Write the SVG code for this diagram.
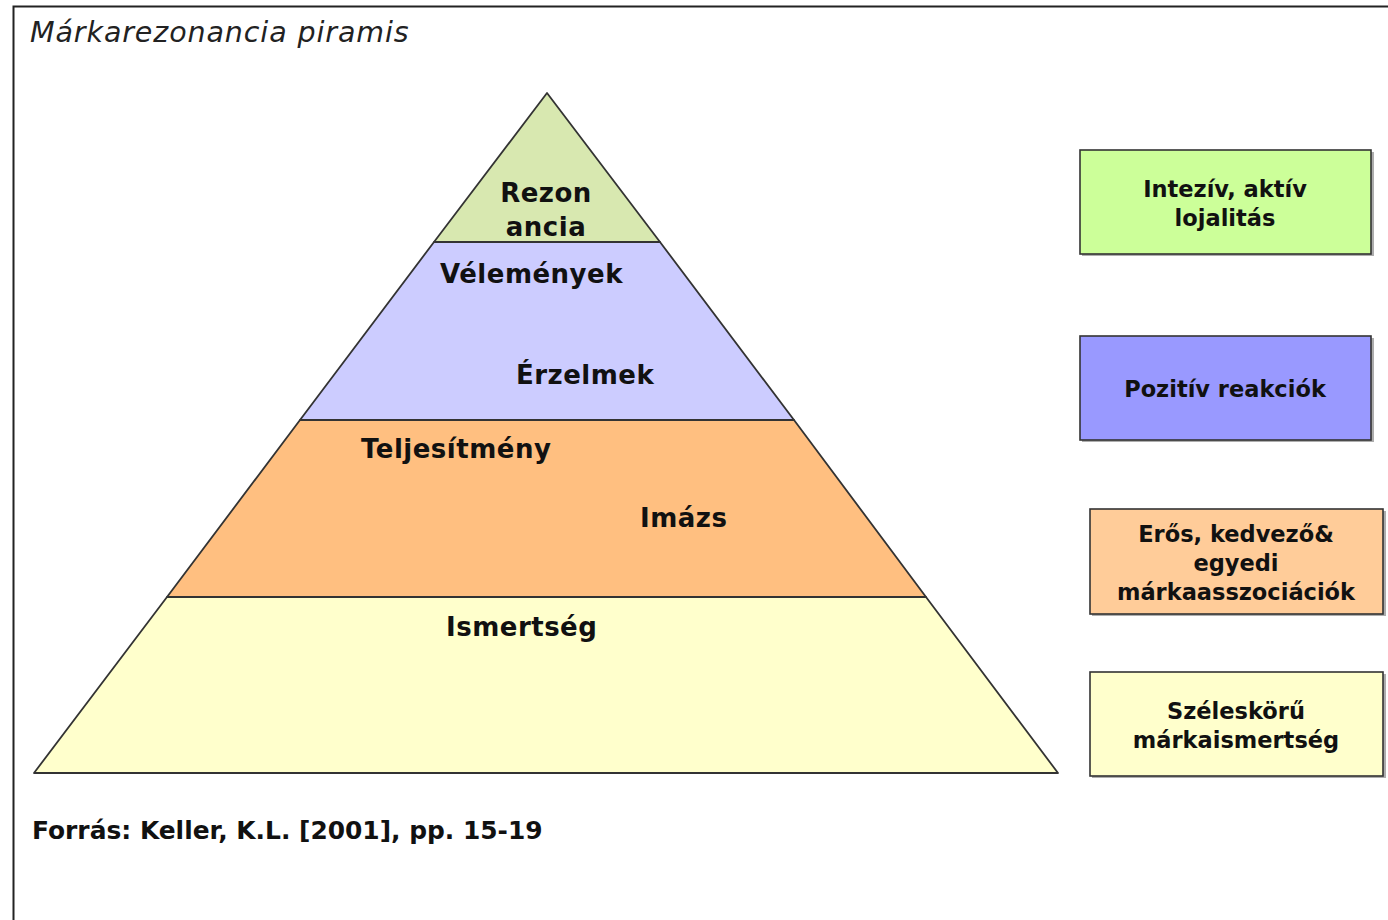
<svg xmlns="http://www.w3.org/2000/svg" width="1388" height="920" viewBox="0 0 1388 920">
<style>
.lay{stroke:#333;stroke-width:1.8;stroke-linejoin:round}
.pt{font-family:"DejaVu Sans",Verdana,sans-serif;font-weight:bold;font-size:26px;fill:#111;letter-spacing:0.5px}
.bx{stroke:#333;stroke-width:1.6}
.sh{fill:#777;opacity:0.6}
.bt{font-family:"DejaVu Sans",Verdana,sans-serif;font-weight:bold;font-size:22.5px;fill:#111;text-anchor:middle}
</style>
<rect x="0" y="0" width="1388" height="920" fill="#ffffff"/>
<path d="M13.5 920 V6.5 H1388" fill="none" stroke="#222" stroke-width="2"/>
<text x="30" y="42" font-family="DejaVu Sans,Verdana,sans-serif" font-style="italic" font-size="28.5" letter-spacing="0.9" fill="#222">Márkarezonancia piramis</text>

<g id="pyramid">
<g id="layer-ismertseg">
<polygon class="lay" fill="#FFFFCC" points="167,597 926,597 1058,773 34,773"/>
<text class="pt" x="446" y="636">Ismertség</text>
</g>
<g id="layer-teljesitmeny">
<polygon class="lay" fill="#FFBF80" points="300,420 794,420 926,597 167,597"/>
<text class="pt" x="361" y="458">Teljesítmény</text>
<text class="pt" x="640" y="527">Imázs</text>
</g>
<g id="layer-velemenyek">
<polygon class="lay" fill="#CCCCFF" points="434,242 660,242 794,420 300,420"/>
<text class="pt" x="440" y="283">Vélemények</text>
<text class="pt" x="516" y="384">Érzelmek</text>
</g>
<g id="layer-rezonancia">
<polygon class="lay" fill="#D8E8B0" points="547,93 660,242 434,242"/>
<text class="pt" x="546" y="202" text-anchor="middle">Rezon</text>
<text class="pt" x="546" y="236" text-anchor="middle">ancia</text>
</g>
</g>

<g id="box-lojalitas">
<rect class="sh" x="1082" y="152" width="292" height="104"/>
<rect class="bx" x="1080" y="150" width="291" height="104" fill="#CCFF99"/>
<text class="bt" x="1225" y="197">Intezív, aktív</text>
<text class="bt" x="1225" y="226">lojalitás</text>
</g>
<g id="box-reakciok">
<rect class="sh" x="1082" y="338" width="292" height="104"/>
<rect class="bx" x="1080" y="336" width="291" height="104" fill="#9999FF"/>
<text class="bt" x="1225" y="397">Pozitív reakciók</text>
</g>
<g id="box-asszociaciok">
<rect class="sh" x="1092" y="511" width="294" height="105"/>
<rect class="bx" x="1090" y="509" width="293" height="105" fill="#FFCC99"/>
<text class="bt" x="1236" y="542">Erős, kedvező&amp;</text>
<text class="bt" x="1236" y="571">egyedi</text>
<text class="bt" x="1236" y="600">márkaasszociációk</text>
</g>
<g id="box-ismertseg">
<rect class="sh" x="1092" y="674" width="294" height="104"/>
<rect class="bx" x="1090" y="672" width="293" height="104" fill="#FFFFCC"/>
<text class="bt" x="1236" y="719">Széleskörű</text>
<text class="bt" x="1236" y="748">márkaismertség</text>
</g>
<g id="connectors"></g>
<text x="32" y="839" font-family="DejaVu Sans,Verdana,sans-serif" font-weight="bold" font-size="24.9" fill="#111">Forrás: Keller, K.L. [2001], pp. 15-19</text>
</svg>
